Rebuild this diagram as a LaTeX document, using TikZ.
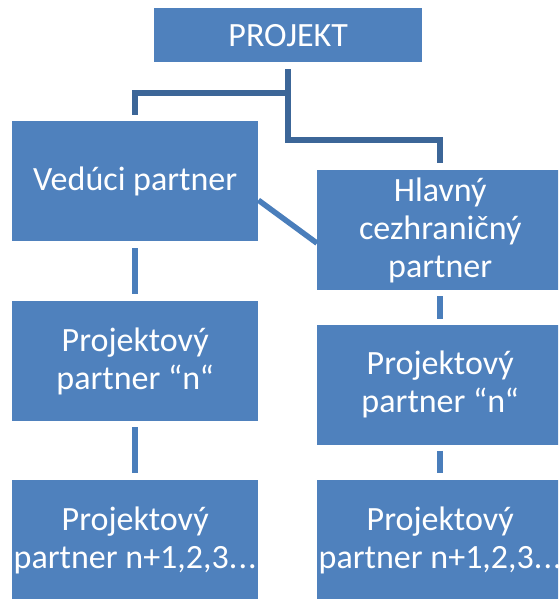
\documentclass[tikz,border=0pt]{standalone}
\usepackage{fontspec}
\setmainfont{Carlito}
\usetikzlibrary{calc}
\definecolor{boxblue}{HTML}{4F81BD}
\definecolor{linkblue}{HTML}{3C6698}
\definecolor{stubblue}{HTML}{4A7EBB}
\begin{document}
\begin{tikzpicture}[x=1pt,y=-1pt,
  box/.style={fill=boxblue, text=white, minimum width=246pt, minimum height=120pt,
    align=center, inner sep=0pt, anchor=north west,
    font=\fontsize{34}{38}\selectfont},
  link/.style={draw=linkblue, line width=6pt},
  stub/.style={draw=stubblue, line width=5.5pt}]
\clip (0,0) rectangle (558,599);
\fill[white] (0,0) rectangle (558,599);
\node[box, minimum width=268pt, minimum height=54pt] (proj) at (154,8) {PROJEKT};
\node[box] (ved) at (12,121) {Vedúci partner};
\node[box] (hl) at (317,170) {Hlavný\\cezhraničný\\partner};
\node[box] (pl) at (12,301) {Projektový\\partner “n“};
\node[box] (pr) at (317,324.5) {Projektový\\partner “n“};
\node[box] (bl) at (12,480) {Projektový\\partner n+1,2,3.\kern1pt.\kern1pt.};
\node[box] (br) at (317,480) {Projektový\\partner n+1,2,3.\kern1pt.\kern1pt.};
\draw[link] ($(proj.south)+(0,7)$) -- ($(proj.south)+(0,31)$) -| ($(ved.north)+(0,-6)$);
\draw[link] ($(proj.south)+(0,30)$) |- ($(hl.north)+(0,-30)$) -- ($(hl.north)+(0,-7)$);
\draw[stub] ($(ved.east)+(0,19)$) -- ($(hl.west)+(0,13)$);
\draw[stub] ($(ved.south)+(0,7)$) -- ($(pl.north)+(0,-7)$);
\draw[stub] ($(pl.south)+(0,6)$) -- ($(bl.north)+(0,-7)$);
\draw[stub] ($(hl.south)+(0,6)$) -- ($(pr.north)+(0,-6)$);
\draw[stub] ($(pr.south)+(0,6)$) -- ($(br.north)+(0,-7)$);
\end{tikzpicture}
\end{document}
